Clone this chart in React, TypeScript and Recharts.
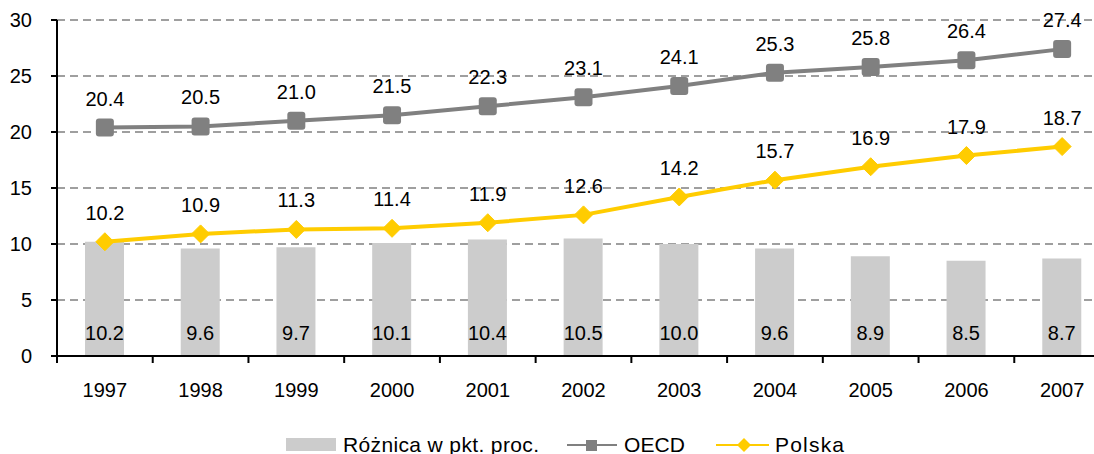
import React from 'react';
import {
  ComposedChart,
  Bar,
  Line,
  XAxis,
  YAxis,
  CartesianGrid,
  Legend,
  LabelList
} from 'recharts';

// values
const years = ['1997', '1998', '1999', '2000', '2001', '2002', '2003', '2004', '2005', '2006', '2007'];
const oecd = [20.4, 20.5, 21.0, 21.5, 22.3, 23.1, 24.1, 25.3, 25.8, 26.4, 27.4];
const polska = [10.2, 10.9, 11.3, 11.4, 11.9, 12.6, 14.2, 15.7, 16.9, 17.9, 18.7];
const roznica = [10.2, 9.6, 9.7, 10.1, 10.4, 10.5, 10.0, 9.6, 8.9, 8.5, 8.7];
const yTicks = [0, 5, 10, 15, 20, 25, 30];

const data = years.map((year, i) => ({
  year,
  oecd: oecd[i],
  polska: polska[i],
  roznica: roznica[i]
}));

const GREY = '#808080';
const YELLOW = '#FFCC00';
const BAR = '#CCCCCC';
const FONT = '"Liberation Sans", Arial, sans-serif';

const fmt = (v: any) => Number(v).toFixed(1);

// category ticks sit on the band boundaries, labels in the middle
const XTick = (props: any) => {
  const { x, y, payload } = props;
  const half = payload.offset ?? 47.8;
  return (
    <g>
      <line x1={x - half} x2={x - half} y1={y} y2={y + 7} stroke="#000" strokeWidth={2} />
      <text x={x} y={y + 27} dy="0.71em" textAnchor="middle" fontSize={20} fill="#000">
        {payload.value}
      </text>
    </g>
  );
};

const SquareDot = (props: any) => {
  const { cx, cy, index } = props;
  if (cx == null || cy == null) return <g key={`sq-${index}`} />;
  return <rect key={`sq-${index}`} x={cx - 9} y={cy - 9} width={18} height={18} rx={3} fill={GREY} />;
};

const DiamondDot = (props: any) => {
  const { cx, cy, index } = props;
  if (cx == null || cy == null) return <g key={`dm-${index}`} />;
  const r = 9;
  return (
    <polygon
      key={`dm-${index}`}
      points={`${cx},${cy - r} ${cx + r},${cy} ${cx},${cy + r} ${cx - r},${cy}`}
      fill={YELLOW}
      strokeLinejoin="round"
      stroke={YELLOW}
      strokeWidth={1}
    />
  );
};

const LegendContent = () => (
  <svg width={1110} height={38} style={{ display: 'block', fontFamily: FONT }}>
    <rect x={286} y={22} width={50} height={13} fill={BAR} />
    <text x={343} y={36} fontSize={21} fill="#000" textLength={196} lengthAdjust="spacing">
      Różnica w pkt. proc.
    </text>
    <line x1={567} x2={617} y1={29} y2={29} stroke={GREY} strokeWidth={2} />
    <rect x={586} y={24} width={11} height={11} fill={GREY} />
    <text x={624} y={36} fontSize={21} fill="#000" textLength={61} lengthAdjust="spacing">
      OECD
    </text>
    <line x1={716} x2={769} y1={29} y2={29} stroke={YELLOW} strokeWidth={2} />
    <polygon points="744,22 751,29 744,36 737,29" fill={YELLOW} />
    <text x={775} y={36} fontSize={21} fill="#000" textLength={69} lengthAdjust="spacing">
      Polska
    </text>
  </svg>
);

export default function App() {
  return (
    <div
      style={{
        position: 'absolute',
        left: 0,
        top: 0,
        width: 1094,
        height: 454,
        overflow: 'hidden',
        background: '#fff'
      }}
    >
      <ComposedChart
        width={1110}
        height={454}
        data={data}
        margin={{ top: 20, right: 0, bottom: 0, left: 0 }}
        style={{ fontFamily: FONT }}
      >
        <CartesianGrid vertical={false} stroke={GREY} strokeDasharray="8 5" strokeWidth={1.5} />
        <XAxis
          dataKey="year"
          height={60}
          interval={0}
          tickLine={false}
          tickSize={0}
          tickMargin={0}
          axisLine={{ stroke: '#000', strokeWidth: 2 }}
          tick={<XTick />}
        />
        <YAxis
          width={57}
          domain={[0, 30]}
          ticks={yTicks}
          interval={0}
          tickSize={6}
          tickMargin={19}
          tickLine={{ stroke: '#000', strokeWidth: 2 }}
          axisLine={{ stroke: '#000', strokeWidth: 2 }}
          tick={{ fill: '#000', fontSize: 20 }}
        />
        <Legend
          verticalAlign="bottom"
          content={<LegendContent />}
          wrapperStyle={{ left: 0, top: 416, bottom: 'auto', width: 1110, height: 38 }}
        />
        <Bar dataKey="roznica" name="Różnica w pkt. proc." fill={BAR} barSize={39} isAnimationActive={false}>
          <LabelList
            dataKey="roznica"
            position="insideBottom"
            offset={16}
            formatter={fmt}
            fill="#000"
            fontSize={20}
          />
        </Bar>
        <Line
          dataKey="oecd"
          name="OECD"
          stroke={GREY}
          strokeWidth={4}
          dot={SquareDot}
          activeDot={false}
          isAnimationActive={false}
        >
          <LabelList dataKey="oecd" position="top" offset={22} formatter={fmt} fill="#000" fontSize={20} />
        </Line>
        <Line
          dataKey="polska"
          name="Polska"
          stroke={YELLOW}
          strokeWidth={4}
          dot={DiamondDot}
          activeDot={false}
          isAnimationActive={false}
        >
          <LabelList dataKey="polska" position="top" offset={22} formatter={fmt} fill="#000" fontSize={20} />
        </Line>
      </ComposedChart>
    </div>
  );
}
